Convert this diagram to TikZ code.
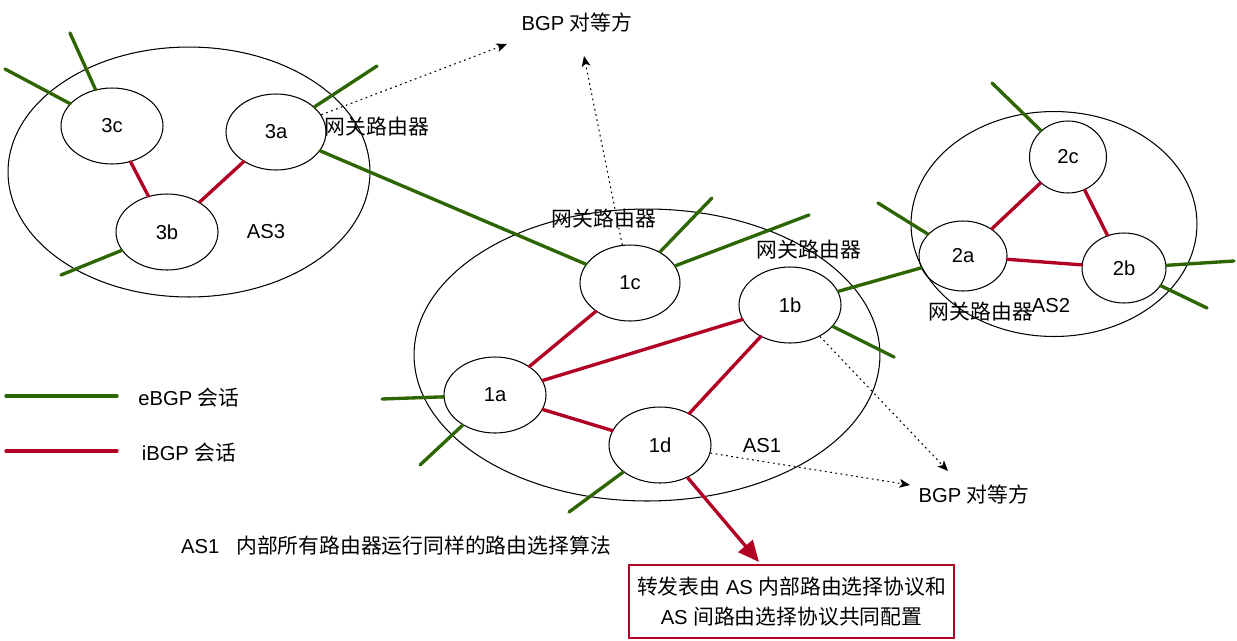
\documentclass[tikz,border=0pt]{standalone}
\usepackage{fontspec}
\setmainfont{Liberation Sans}
\newfontfamily\cjk[Scale=1.03]{Noto Sans CJK SC}
\newcommand{\zh}[1]{{\cjk #1}}
\definecolor{eBGPGreen}{RGB}{45,102,0}
\definecolor{iBGPRed}{RGB}{178,0,36}
\usetikzlibrary{shapes.geometric, arrows.meta}

\tikzset{
  router/.style={ellipse, draw, line width=0.6pt, inner sep=0pt,
                 minimum width=2.04cm, minimum height=1.52cm},
  asregion/.style={ellipse, draw, line width=0.6pt, inner sep=0pt},
  ebgp/.style={draw=eBGPGreen, line width=1.9pt, line cap=round},
  ibgp/.style={draw=iBGPRed, line width=1.9pt, line cap=round},
  peerlink/.style={line width=0.6pt, dash pattern=on 1pt off 2pt,
                   -{Stealth[length=6pt,width=5pt,inset=1.5pt]}},
}

\begin{document}
\begin{tikzpicture}[x=0.02cm, y=-0.02cm, font=\fontsize{11.5}{14}\selectfont]

\useasboundingbox (0,0) rectangle (1237,640);

\node [asregion, minimum width=7.24cm, minimum height=5cm] (as3) at (189,172) {};
\node [asregion, minimum width=9.32cm, minimum height=5.84cm] (as1) at (647,355) {};
\node [asregion, minimum width=5.72cm, minimum height=4.5cm] (as2) at (1054,224) {};

\node [router] (r3c) at (112,126) {3c};
\node [router, minimum width=2cm] (r3a) at (276,132) {3a};
\node [router] (r3b) at (167,232) {3b};
\node [router, minimum width=2cm] (r1c) at (630,283) {1c};
\node [router] (r1b) at (790,305) {1b};
\node [router] (r1a) at (495,395) {1a};
\node [router] (r1d) at (660,445) {1d};
\node [router, minimum width=1.54cm, minimum height=1.44cm] (r2c) at (1068,157) {2c};
\node [router, minimum width=1.76cm, minimum height=1.4cm] (r2a) at (963,256) {2a};
\node [router, minimum width=1.68cm, minimum height=1.4cm] (r2b) at (1124,268) {2b};

\node (as3Label) at (266,232) {AS3};
\node (as1Label) at (762,446) {AS1};
\node (as2Label) at (1051,306) {AS2};
\node (gw3a) at (377,127) {\zh{网关路由器}};
\node (gw1c) at (604,219) {\zh{网关路由器}};
\node (gw1b) at (809,250) {\zh{网关路由器}};
\node (gw2a) at (981,312) {\zh{网关路由器}};
\node (peerTop) at (577,23) {BGP \zh{对等方}};
\node (peerBottom) at (974,495) {BGP \zh{对等方}};
\node (note) at (396,546) {AS1\ \ \ \zh{内部所有路由器运行同样的路由选择算法}};

% external links
\coordinate (s3cA) at (70,33);
\coordinate (s3cB) at (5,69);
\coordinate (s3a) at (377,66);
\coordinate (s3b) at (61,275);
\coordinate (s2c) at (992,83);
\coordinate (s2a) at (878,203);
\coordinate (s2bA) at (1234,261);
\coordinate (s2bB) at (1207,308);
\coordinate (s1cA) at (712,198);
\coordinate (s1cB) at (809,215);
\coordinate (s1b) at (894,357);
\coordinate (s1aA) at (382,399);
\coordinate (s1aB) at (420,465);
\coordinate (s1d) at (569,512);

\foreach \r/\s in {r3c/s3cA, r3c/s3cB, r3a/s3a, r3b/s3b, r2c/s2c, r2a/s2a,
                   r2b/s2bA, r2b/s2bB, r1c/s1cA, r1c/s1cB, r1b/s1b,
                   r1a/s1aA, r1a/s1aB, r1d/s1d}
  \draw [ebgp] (\r) -- (\s);

\draw [ebgp] (r3a) -- (r1c);
\draw [ebgp] (r1b) -- (r2a);

% internal links
\foreach \a/\b in {r3c/r3b, r3a/r3b, r1a/r1c, r1a/r1b, r1a/r1d, r1b/r1d,
                   r2c/r2a, r2c/r2b, r2a/r2b}
  \draw [ibgp] (\a) -- (\b);

\coordinate (peerTopA) at (507,44);
\coordinate (peerTopB) at (584,56);
\coordinate (peerBottomA) at (948,471);
\coordinate (peerBottomB) at (910,485);

\draw [peerlink] (r3a) -- (peerTopA);
\draw [peerlink] (r1c) -- (peerTopB);
\draw [peerlink] (r1b) -- (peerBottomA);
\draw [peerlink] (r1d) -- (peerBottomB);

\node [draw=iBGPRed, line width=1.2pt, minimum width=6.5cm, minimum height=1.46cm,
       align=center, font=\fontsize{11.5}{17}\selectfont] (table) at (791.5,601.5)
      {\zh{转发表由} AS \zh{内部路由选择协议和}\\AS \zh{间路由选择协议共同配置}};
\coordinate (tableTip) at (759,562);
\draw [ibgp, line cap=butt, -{Triangle[length=12pt,width=10.5pt]}] (r1d) -- (tableTip);

\coordinate (eStart) at (6,396);
\coordinate (eEnd) at (117,396);
\coordinate (iStart) at (6,451);
\coordinate (iEnd) at (117,451);
\draw [ebgp] (eStart) -- (eEnd);
\draw [ibgp] (iStart) -- (iEnd);
\node (eText) at (189,398) {eBGP \zh{会话}};
\node (iText) at (189,453) {iBGP \zh{会话}};

\end{tikzpicture}
\end{document}
